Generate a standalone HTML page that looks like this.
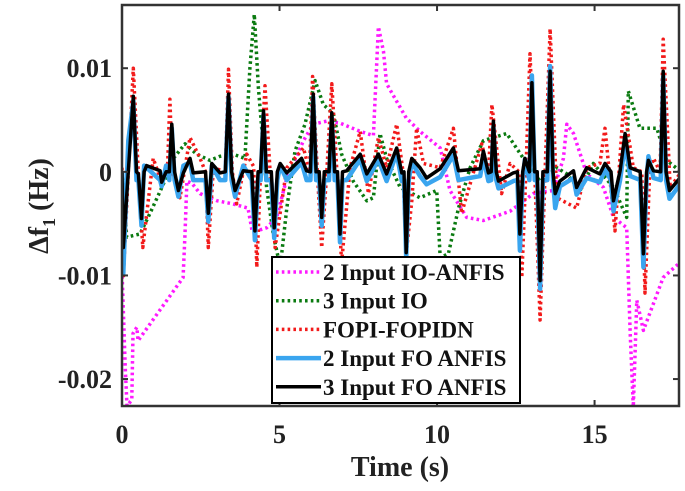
<!DOCTYPE html>
<html><head><meta charset="utf-8"><style>
html,body{margin:0;padding:0;background:#fff;}
svg{display:block;font-family:"Liberation Serif",serif;font-weight:bold;}
</style></head><body>
<svg id="chart" width="685" height="491" viewBox="0 0 685 491" xmlns="http://www.w3.org/2000/svg">
<defs><clipPath id="plotclip"><rect x="122" y="5" width="557" height="401"/></clipPath></defs>
<rect x="122" y="5" width="557" height="401" fill="#fff"/>
<g id="series" clip-path="url(#plotclip)"></g>
<g id="axes"></g>
<text x="400" y="476" font-size="28" text-anchor="middle" fill="#222">Time (s)</text>
<text transform="translate(48,206) rotate(-90)" font-size="28" text-anchor="middle" fill="#222">Δf<tspan font-size="18" dy="7">1</tspan><tspan dy="-7"> (Hz)</tspan></text>
<g>
<rect x="272" y="257" width="248" height="146" fill="#fff" stroke="#000" stroke-width="2"/>
<g id="legend-items"></g>
</g>
</svg>
<script>
const xTicks=[0,5,10,15];
const yTicks=[0.01,0,-0.01,-0.02];
const yTickLabels=["0.01","0","-0.01","-0.02"];
const seriesNames=["2 Input IO-ANFIS","3 Input IO","FOPI-FOPIDN","2 Input FO ANFIS","3 Input FO ANFIS"];

const magT=[0,0.10,0.16,0.31,0.35,0.47,0.51,1.94,2.0,2.06,2.22,2.48,3.02,3.52,4.0,4.13,4.28,4.59,4.91,5.23,5.76,6.07,6.50,6.92,7.56,7.98,8.14,8.30,8.40,8.72,9.02,9.46,10.10,10.41,10.94,11.47,12.32,13.06,13.69,14.01,14.12,14.33,14.75,15.28,15.60,16.02,16.13,16.23,16.34,16.55,17.18,17.77];
const magV=[-0.0095,-0.0188,-0.0226,-0.022,-0.0156,-0.015,-0.0163,-0.0102,-0.006,-0.0009,-0.0011,-0.0021,-0.0028,-0.0031,-0.0035,-0.0057,-0.0057,-0.0054,-0.0044,-0.0006,0.003,0.0046,0.0049,0.0047,0.0039,0.0035,0.014,0.0116,0.0085,0.0068,0.0052,0.0039,0.0023,-0.0018,-0.0044,-0.0047,-0.0038,-0.0021,-0.0018,0.0013,0.0046,0.0037,-0.0002,-0.0015,-0.0044,-0.0054,-0.0156,-0.0227,-0.0124,-0.0153,-0.0102,-0.0086];

const grnT=[0,0.15,0.57,0.89,1.31,1.58,2.0,2.37,2.79,3.11,3.53,3.90,4.06,4.20,4.33,4.59,4.80,5.02,5.23,5.49,5.81,6.13,6.39,6.71,6.97,7.34,7.77,7.98,8.19,8.40,8.83,9.46,9.99,10.10,10.36,10.68,11.05,11.47,12.21,12.74,13.27,13.80,14.12,14.54,14.96,15.60,16.02,16.07,16.44,16.98,17.29,17.71];
const grnV=[0,-0.0063,-0.006,-0.004,-0.0012,0.0011,0.0027,0.0017,0.0011,0.0015,0.0017,0.0013,0.01,0.0152,0.0081,-0.0015,-0.006,-0.0092,-0.0035,0.002,0.0046,0.0088,0.0065,0.0056,0.0017,-0.0009,-0.0028,-0.0025,0.0037,0.0013,-0.0015,-0.0025,-0.0018,-0.0083,-0.0079,-0.0035,0.0004,0.003,0.0037,0.0013,-0.0009,0.0004,-0.0002,-0.0018,0.0008,-0.0015,-0.0044,0.0078,0.0042,0.0042,0.0011,0.0001];

const redT=[0,0.04,0.2,0.36,0.52,0.66,0.99,1.21,1.44,1.52,1.6,1.84,2.16,2.48,2.65,2.74,2.90,3.28,3.38,3.5,3.64,3.96,4.18,4.28,4.4,4.54,4.7,4.86,5.23,5.76,5.95,6.05,6.2,6.34,6.5,6.66,6.82,6.97,7.24,7.56,7.82,8.14,8.40,8.72,8.92,9.02,9.20,9.35,9.57,10.10,10.52,10.78,11.42,11.63,11.74,12.05,12.32,12.6,12.69,12.82,12.95,13.1,13.27,13.43,13.59,13.80,14.43,14.75,15.17,15.33,15.65,15.92,16.23,16.5,16.60,16.75,16.87,17.08,17.18,17.40,17.71];
const redV=[0.0004,-0.0102,0,0.01,-0.0002,-0.0073,0.0013,-0.0006,0,0.007,0,-0.0025,0.0033,0.0013,0,-0.0073,0.0004,0,0.0099,0,-0.0031,0.0017,0.0005,-0.0092,0,0.0083,0,-0.0073,0.0004,0.0023,0,0.0092,0,-0.0073,0,0.0085,0,-0.0088,0.0004,0.0039,-0.0021,0.0033,0.0004,0.0046,0,-0.0079,-0.0028,0.0042,0.0008,0.0004,0.0042,-0.004,0.0027,-0.0002,0.0065,-0.0021,0.0008,0,-0.0102,0,0.0114,0,-0.0143,0,0.0138,-0.0025,-0.0035,0.0004,0.0008,0.0042,-0.0057,0.0065,0.0004,0,-0.0117,0,0.0013,0,0.0128,-0.0015,-0.0002];

const blkT=[0,0.04,0.2,0.36,0.46,0.52,0.62,0.7,0.78,1.21,1.26,1.4,1.5,1.58,1.67,1.79,1.95,2.16,2.26,2.65,2.74,2.85,3.11,3.28,3.38,3.48,3.59,3.85,4.12,4.22,4.32,4.40,4.49,4.58,4.74,4.83,4.93,5.02,5.23,5.70,5.86,5.98,6.07,6.16,6.26,6.34,6.42,6.57,6.66,6.75,6.84,6.92,7.0,7.13,7.56,7.77,8.14,8.40,8.72,8.88,8.95,9.02,9.1,9.20,9.46,9.67,10.10,10.52,10.68,11.37,11.47,11.63,11.72,11.79,11.88,11.95,12.42,12.55,12.63,12.72,12.79,12.93,13.01,13.1,13.18,13.27,13.36,13.5,13.59,13.68,13.75,13.90,14.33,14.43,14.75,15.17,15.33,15.52,15.60,15.81,15.97,16.13,16.45,16.55,16.65,16.71,16.87,17.1,17.18,17.27,17.38,17.71];
const blkV=[0,-0.0073,0,0.0073,0,-0.0002,-0.0045,0,0.0006,0.0001,-0.001,0,0,0.0046,0,-0.0018,-0.0001,0.0013,-0.0001,0,-0.004,0.0008,-0.0001,0,0.0075,0,-0.0018,0.0001,0,-0.0057,0,0,0.0059,0,0,-0.0054,0,0.0008,-0.0001,0.0013,0.0001,0,0.0075,0,0,-0.0044,0,0,0.0057,0,0,-0.006,0,0.0001,0.0017,-0.0002,0.0017,-0.0002,0.0023,-0.0001,0,-0.0078,0,0.0013,0.0004,-0.0006,0.0003,0.0023,0.0001,0.0003,0.002,-0.0001,0,0.0049,0,-0.0009,-0.0001,0,-0.006,0,0.0013,0,0.0086,0,0,-0.0105,0,0,0.0097,0,-0.0021,-0.0009,0.0001,-0.0015,0.0004,-0.0002,0.0008,0,-0.0028,0.0001,0.0037,0.0004,0,-0.0079,0,0.0011,0.0001,0,0.0097,0,-0.0018,-0.0006];

const bluT=blkT.slice();
const bluV=[0,-0.0098,0.003,0.0068,-0.0008,-0.0008,-0.0052,0.0006,0.0004,-0.0008,-0.0014,0.0006,-0.0008,0.0042,-0.0008,-0.0024,0.0006,0.0009,-0.0008,-0.0008,-0.0048,0.0006,-0.0008,-0.0008,0.0072,-0.0008,-0.0024,0.0006,-0.0008,-0.0066,-0.0008,-0.0008,0.0055,-0.0008,-0.0008,-0.0064,-0.0008,0.0006,-0.0008,0.0009,-0.0008,-0.0008,0.0072,-0.0008,-0.0008,-0.0052,-0.0008,-0.0008,0.0052,-0.0008,-0.0008,-0.0068,-0.0008,-0.0008,0.0012,-0.0009,0.0012,-0.0009,0.0018,-0.0009,-0.0008,-0.0083,-0.0008,0.0009,-0.0004,-0.0012,-0.0005,0.0016,-0.0008,-0.0004,0.0014,-0.0009,-0.0008,0.0043,-0.0008,-0.0016,-0.0009,-0.0008,-0.0076,-0.0008,0.0012,-0.0008,0.0093,-0.0008,-0.0008,-0.0113,-0.0008,-0.0008,0.0102,-0.0008,-0.0035,-0.0014,-0.0006,-0.0022,-0.0006,-0.001,0.0002,-0.0008,-0.0038,-0.0008,0.0028,-0.0004,-0.0008,-0.0092,-0.0008,0.0015,-0.0006,-0.0008,0.0092,-0.0008,-0.0026,-0.0012];

const X0=122,X1=679,Y0=5,Y1=406;
const xMin=0,xMax=17.68,yMin=-0.0226,yMax=0.0161;
function sx(t){return X0+(t-xMin)/(xMax-xMin)*(X1-X0);}
function sy(v){return Y1-(v-yMin)/(yMax-yMin)*(Y1-Y0);}
const NS="http://www.w3.org/2000/svg";
const styles=[
 {c:"#ff19ff",w:3.5,d:"2.6 3.2"},
 {c:"#0a7a10",w:3.5,d:"2.6 3.2"},
 {c:"#f21a1a",w:3.5,d:"2.6 3.2"},
 {c:"#3aa5ef",w:4.5,d:""},
 {c:"#000",w:3.5,d:""}];
const data=[[magT,magV],[grnT,grnV],[redT,redV],[bluT,bluV],[blkT,blkV]];
const lineNames=["line-2-input-io-anfis","line-3-input-io","line-fopi-fopidn","line-2-input-fo-anfis","line-3-input-fo-anfis"];
const g=document.getElementById("series");
data.forEach((s,i)=>{
 const p=document.createElementNS(NS,"polyline");
 p.setAttribute("points",s[0].map((t,k)=>sx(t).toFixed(1)+","+sy(s[1][k]).toFixed(1)).join(" "));
 p.setAttribute("fill","none");p.setAttribute("stroke",styles[i].c);p.setAttribute("stroke-width",styles[i].w);
 p.setAttribute("stroke-linejoin","round");
 if(styles[i].d)p.setAttribute("stroke-dasharray",styles[i].d);
 
 
 g.appendChild(p);
});
const ax=document.getElementById("axes");
function mk(tag,attrs,txt){const e=document.createElementNS(NS,tag);for(const k in attrs)e.setAttribute(k,attrs[k]);if(txt!==undefined)e.textContent=txt;ax.appendChild(e);return e;}
const frame=mk("rect",{x:X0,y:Y0,width:X1-X0,height:Y1-Y0,fill:"none",stroke:"#333","stroke-width":2.5});


xTicks.forEach(t=>{
 const x=sx(t);
 const a=mk("line",{x1:x,y1:Y1,x2:x,y2:Y1-6,stroke:"#333","stroke-width":2});
 
 
 const b=mk("line",{x1:x,y1:Y0,x2:x,y2:Y0+6,stroke:"#333","stroke-width":2});
 
 
 const l=mk("text",{x:x,y:443,"font-size":26,"text-anchor":"middle",fill:"#222"},String(t));
 
 
});
yTicks.forEach((v,i)=>{
 const y=sy(v);
 const a=mk("line",{x1:X0,y1:y,x2:X0+6,y2:y,stroke:"#333","stroke-width":2});
 
 
 const b=mk("line",{x1:X1,y1:y,x2:X1-6,y2:y,stroke:"#333","stroke-width":2});
 
 
 const l=mk("text",{x:112,y:y+9,"font-size":26,"text-anchor":"end",fill:"#222"},yTickLabels[i]);
 
 
});
const lg=document.getElementById("legend-items");
seriesNames.forEach((n,i)=>{
 const y=272+i*28.7;
 const ln=document.createElementNS(NS,"line");
 ln.setAttribute("x1",276);ln.setAttribute("x2",321);ln.setAttribute("y1",y);ln.setAttribute("y2",y);
 ln.setAttribute("stroke",styles[i].c);ln.setAttribute("stroke-width",styles[i].w);
 if(styles[i].d)ln.setAttribute("stroke-dasharray",styles[i].d);
 
 
 lg.appendChild(ln);
 const tx=document.createElementNS(NS,"text");
 tx.setAttribute("x",323);tx.setAttribute("y",y+8);tx.setAttribute("font-size",23);tx.setAttribute("fill","#111");
 tx.textContent=n;
 
 
 lg.appendChild(tx);
});
</script>
</body></html>
